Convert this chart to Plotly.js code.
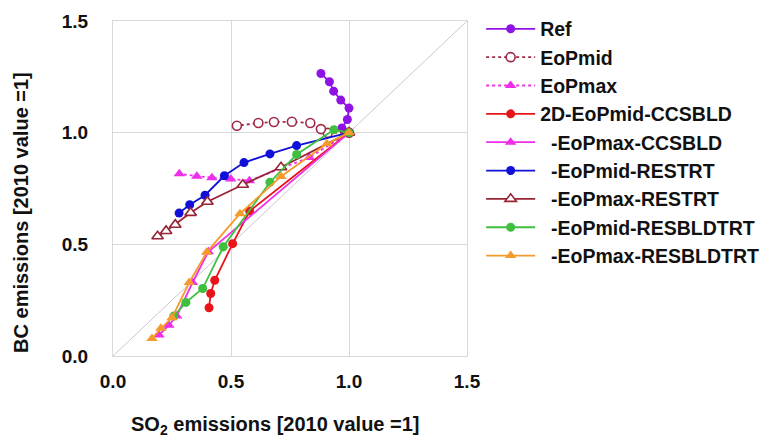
<!DOCTYPE html>
<html>
<head>
<meta charset="utf-8">
<script src="https://cdn.plot.ly/plotly-3.0.1.min.js"></script>
<style>html,body{margin:0;padding:0;background:#fff;}#chart{width:769px;height:438px;}</style>
</head>
<body>
<div id="chart"></div>
<script>
// Diagonal reference (1:1 line)
const diag_x = [0, 1.5];
const diag_y = [0, 1.5];

const ref_x = [1.00, 0.970, 0.993, 1.000, 0.965, 0.935, 0.917, 0.881];
const ref_y = [1.00, 1.021, 1.059, 1.110, 1.146, 1.186, 1.228, 1.265];

const eopmid_x = [1.00, 0.910, 0.881, 0.836, 0.758, 0.682, 0.616, 0.525];
const eopmid_y = [1.00, 0.999, 1.016, 1.043, 1.049, 1.048, 1.043, 1.031];

const eopmax_x = [1.00, 0.832, 0.578, 0.499, 0.419, 0.355, 0.281];
const eopmax_y = [1.00, 0.889, 0.785, 0.793, 0.798, 0.805, 0.816];

const ccsbldMid_x = [1.00, 0.579, 0.507, 0.431, 0.414, 0.407];
const ccsbldMid_y = [1.00, 0.649, 0.503, 0.339, 0.280, 0.216];

const ccsbldMax_x = [1.00, 0.404, 0.337, 0.270, 0.237, 0.195];
const ccsbldMax_y = [1.00, 0.467, 0.329, 0.179, 0.138, 0.094];

const restrtMid_x = [1.00, 0.778, 0.665, 0.555, 0.472, 0.390, 0.325, 0.280];
const restrtMid_y = [1.00, 0.942, 0.905, 0.866, 0.807, 0.720, 0.677, 0.640];

const restrtMax_x = [1.00, 0.712, 0.550, 0.400, 0.329, 0.264, 0.225, 0.189];
const restrtMax_y = [1.00, 0.845, 0.767, 0.691, 0.641, 0.588, 0.560, 0.536];

const resbldMid_x = [1.00, 0.936, 0.778, 0.665, 0.467, 0.380, 0.309, 0.258];
const resbldMid_y = [1.00, 1.013, 0.902, 0.778, 0.489, 0.302, 0.240, 0.179];

const resbldMax_x = [1.00, 0.906, 0.712, 0.538, 0.397, 0.323, 0.250, 0.203, 0.165];
const resbldMax_y = [1.00, 0.950, 0.804, 0.637, 0.464, 0.329, 0.171, 0.124, 0.078];

const names = ['Ref', 'EoPmid', 'EoPmax', '2D-EoPmid-CCSBLD', '\u00A0\u00A0-EoPmax-CCSBLD',
  '\u00A0\u00A0-EoPmid-RESTRT', '\u00A0\u00A0-EoPmax-RESTRT', '\u00A0\u00A0-EoPmid-RESBLDTRT', '\u00A0\u00A0-EoPmax-RESBLDTRT'];

function tr(x, y, name, color, symbol, dash, open) {
  return {
    x: x, y: y, name: name, type: 'scatter', mode: 'lines+markers',
    line: {color: color, width: 1.8, dash: dash},
    marker: {
      color: open ? '#ffffff' : color,
      symbol: symbol,
      size: symbol.startsWith('triangle') ? 10 : 9,
      line: {color: color, width: open ? 1.6 : 0}
    }
  };
}

const data = [
  {x: diag_x, y: diag_y, type: 'scatter', mode: 'lines', showlegend: false,
   line: {color: '#c8c8c8', width: 1}, hoverinfo: 'skip'},
  tr(ref_x, ref_y, names[0], '#9013e6', 'circle', 'solid', false),
  tr(eopmid_x, eopmid_y, names[1], '#9e2a45', 'circle', 'dot', true),
  tr(eopmax_x, eopmax_y, names[2], '#ee2ee8', 'triangle-up', 'dot', false),
  tr(ccsbldMid_x, ccsbldMid_y, names[3], '#e8141a', 'circle', 'solid', false),
  tr(ccsbldMax_x, ccsbldMax_y, names[4], '#ee2ee8', 'triangle-up', 'solid', false),
  tr(restrtMid_x, restrtMid_y, names[5], '#1010d8', 'circle', 'solid', false),
  tr(restrtMax_x, restrtMax_y, names[6], '#962336', 'triangle-up', 'solid', true),
  tr(resbldMid_x, resbldMid_y, names[7], '#3fbf3f', 'circle', 'solid', false),
  tr(resbldMax_x, resbldMax_y, names[8], '#f59a2c', 'triangle-up', 'solid', false)
];

const fontFam = 'Arial, "Liberation Sans", sans-serif';

const axisCommon = {
  range: [0, 1.5], dtick: 0.5, tick0: 0, tickformat: '.1f',
  showgrid: true, gridcolor: '#d9d9d9', gridwidth: 1,
  zeroline: false, showline: true, mirror: true, linecolor: '#d9d9d9', linewidth: 1,
  ticks: '', fixedrange: true,
  tickfont: {family: fontFam, size: 19, color: '#111', weight: 700}
};

const layout = {
  width: 769, height: 438,
  margin: {l: 113, r: 302, t: 21, b: 82, autoexpand: false},
  paper_bgcolor: '#ffffff', plot_bgcolor: '#ffffff',
  showlegend: true,
  xaxis: Object.assign({}, axisCommon, {ticklabelstandoff: 8}),
  yaxis: Object.assign({}, axisCommon, {ticklabelstandoff: 20}),
  legend: {
    x: 1.04, y: 1.034, xanchor: 'left', yanchor: 'top',
    font: {family: fontFam, size: 19.5, color: '#111', weight: 700},
    itemwidth: 49, maxheight: 420, bgcolor: 'rgba(0,0,0,0)', borderwidth: 0
  },
  annotations: [
    {text: 'SO<sub>2</sub> emissions [2010 value =1]', xref: 'paper', yref: 'paper',
     x: 0.46, y: -0.208, xanchor: 'center', yanchor: 'middle', showarrow: false,
     font: {family: fontFam, size: 20, color: '#111', weight: 700}},
    {text: 'BC emissions [2010 value =1]', xref: 'paper', yref: 'paper',
     x: -0.26, y: 0.43, xanchor: 'center', yanchor: 'middle', textangle: -90, showarrow: false,
     font: {family: fontFam, size: 20, color: '#111', weight: 700}}
  ]
};

Plotly.newPlot('chart', data, layout, {staticPlot: true, displayModeBar: false});
</script>
</body>
</html>
